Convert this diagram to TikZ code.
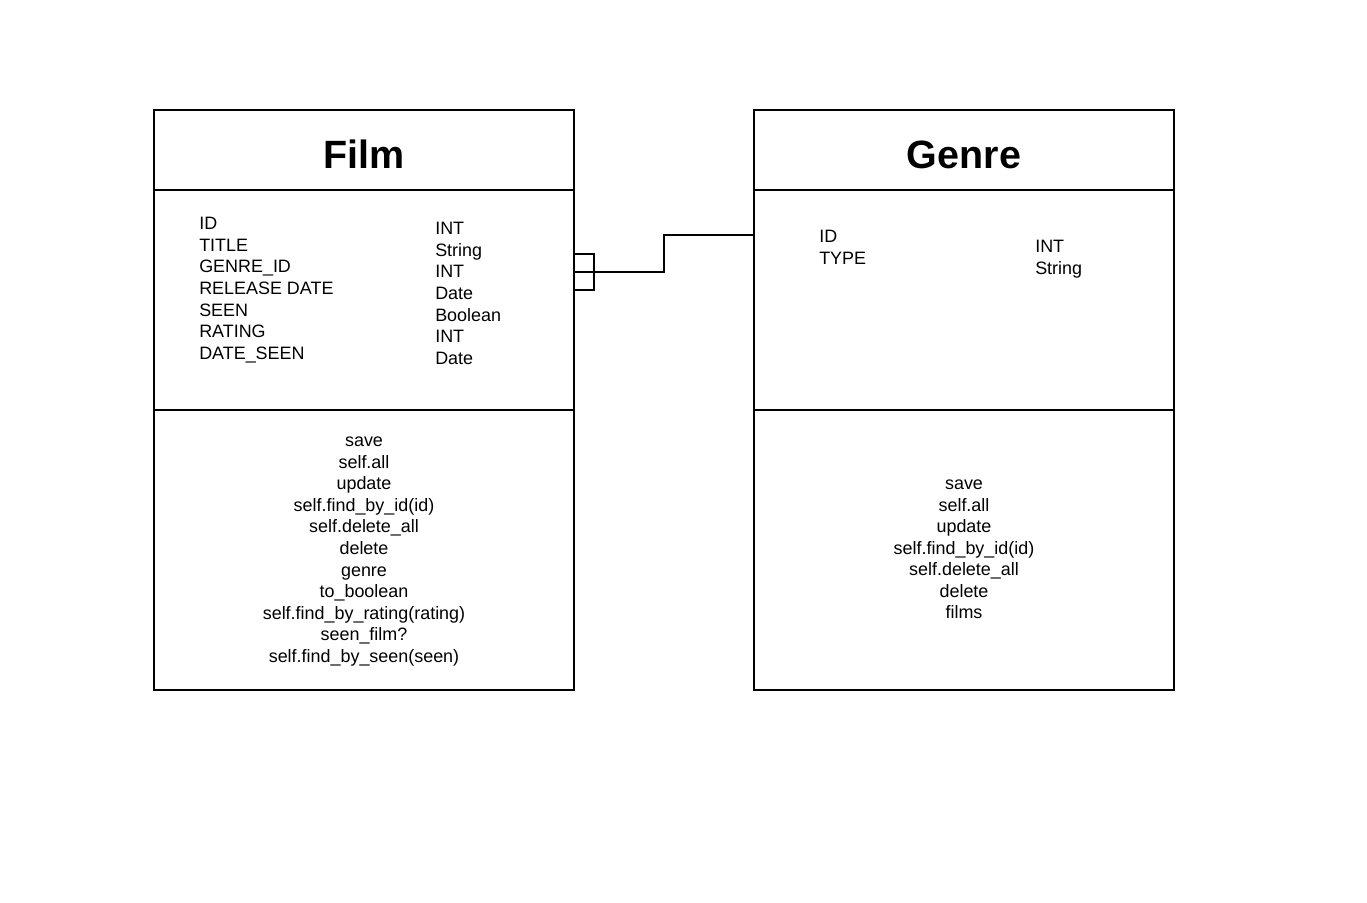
\documentclass[tikz,border=0pt]{standalone}
\usepackage{fontspec}
\setmainfont{Liberation Sans}
\begin{document}
\begin{tikzpicture}[x=0.75pt,y=-0.75pt,
  umlbox/.style={draw=black, line width=1.5pt, minimum width=315pt, minimum height=435pt, inner sep=0pt, outer sep=0pt},
  divline/.style={draw=black, line width=1.5pt},
  conn/.style={draw=black, line width=1.5pt},
  ttl/.style={font=\fontsize{29.6pt}{34pt}\selectfont\bfseries, inner sep=0pt, anchor=base},
  txt/.style={font=\fontsize{13.45pt}{16pt}\selectfont, inner sep=0pt},
]
\useasboundingbox[fill=white] (0,0) rectangle (1367,903);

\node[umlbox] (film) at (364,400) {};
\node[umlbox] (genre) at (964,400) {};

\draw[divline] (film.west |- 0,190) -- (film.east |- 0,190);
\draw[divline] (film.west |- 0,410) -- (film.east |- 0,410);
\draw[divline] (genre.west |- 0,190) -- (genre.east |- 0,190);
\draw[divline] (genre.west |- 0,410) -- (genre.east |- 0,410);

\node[ttl] (filmtitle) at (364,168) {Film};
\node[ttl] (genretitle) at (964,168) {Genre};

\foreach \t [count=\i from 0] in {ID,TITLE,GENRE\_ID,RELEASE DATE,SEEN,RATING,DATE\_SEEN}
  \node[txt, anchor=base west] (fa\i) at (199,{229.5+21.67*\i}) {\t};
\foreach \t [count=\i from 0] in {INT,String,INT,Date,Boolean,INT,Date}
  \node[txt, anchor=base west] (ft\i) at (435,{234.5+21.67*\i}) {\t};

\foreach \t [count=\i from 0] in {ID,TYPE}
  \node[txt, anchor=base west] (ga\i) at (819,{242.5+21.67*\i}) {\t};
\foreach \t [count=\i from 0] in {INT,String}
  \node[txt, anchor=base west] (gt\i) at (1035,{252.5+21.67*\i}) {\t};

\foreach \t [count=\i from 0] in {save,self.all,update,self.find\_by\_id(id),self.delete\_all,delete,genre,to\_boolean,self.find\_by\_rating(rating),seen\_film?,self.find\_by\_seen(seen)}
  \node[txt, anchor=base] (fm\i) at (364,{446.5+21.6*\i}) {\t};
\foreach \t [count=\i from 0] in {save,self.all,update,self.find\_by\_id(id),self.delete\_all,delete,films}
  \node[txt, anchor=base] (gm\i) at (964,{489.5+21.5*\i}) {\t};

\coordinate (fork) at (594,272);
\draw[conn] (film.east |- fork) -- (664,272) |- (genre.west |- 0,235);
\draw[conn] (film.east |- 0,254) -| (594,290) -- (film.east |- 0,290);
\end{tikzpicture}
\end{document}
